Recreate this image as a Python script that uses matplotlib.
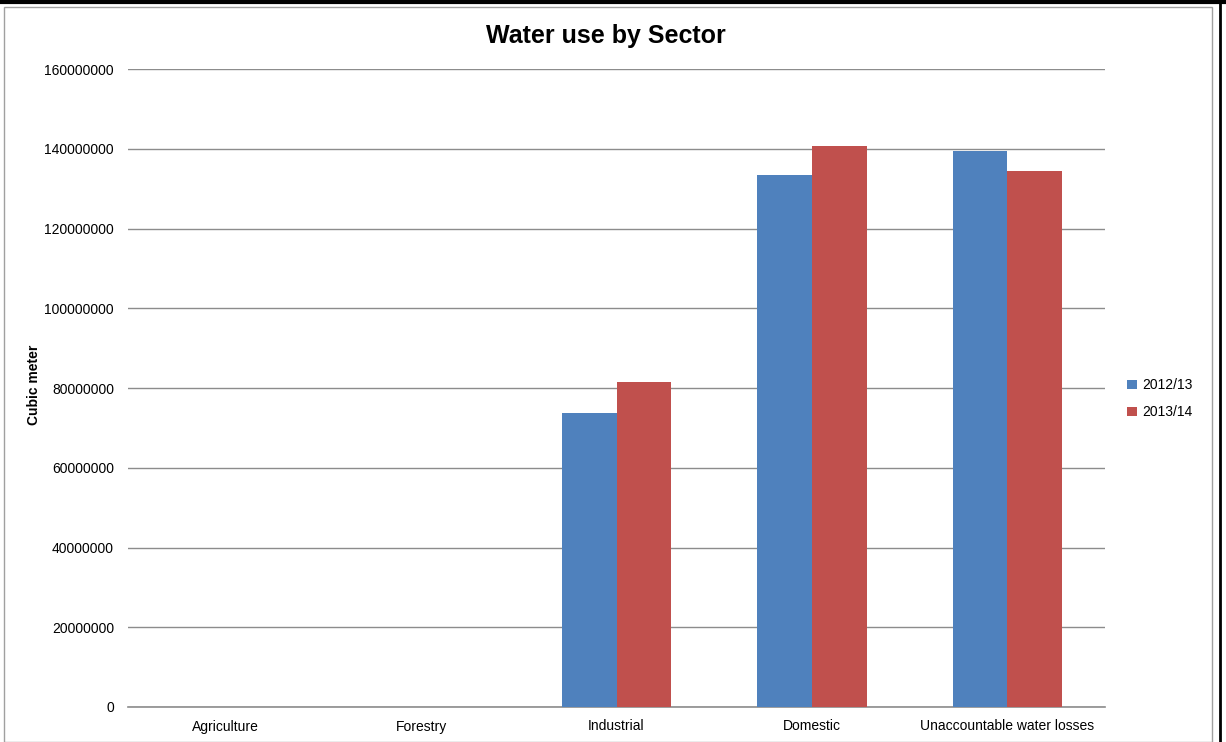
import numpy as np
import matplotlib.pyplot as plt
from matplotlib.patches import Rectangle
from matplotlib.lines import Line2D

plt.rcParams['font.family'] = ['Liberation Sans Narrow', 'Liberation Sans', 'DejaVu Sans']

sectors = ['Agriculture', 'Forestry', 'Industrial', 'Domestic', 'Unaccountable water losses']
use_2012 = [0, 0, 73700000, 133400000, 139400000]
use_2013 = [0, 0, 81500000, 140700000, 134500000]
series_names = ['2012/13', '2013/14']
yticks = np.arange(0, 160000001, 20000000)

blue = '#4f81bd'
red = '#c0504d'

fig = plt.figure(figsize=(12.26, 7.42), dpi=100)
ax = fig.add_axes([128/1226, 1 - 707/742, 977/1226, 638/742])

x = np.arange(len(sectors))
w = 0.28
ax.bar(x - w/2, use_2012, w, color=blue, label=series_names[0], zorder=3)
ax.bar(x + w/2, use_2013, w, color=red, label=series_names[1], zorder=3)

ax.set_xlim(-0.5, len(sectors) - 0.5)
ax.set_ylim(0, 160000000)
ax.set_yticks(yticks)
ax.set_yticklabels([str(v) for v in yticks], fontsize=10)
ax.set_xticks(x)
ax.set_xticklabels(sectors, fontsize=10)
ax.tick_params(axis='y', length=0, pad=10)
ax.tick_params(axis='x', length=0, pad=9)
ax.grid(axis='y', color='#8c8c8c', linewidth=1, zorder=0)
for s in ['top', 'right', 'left']:
    ax.spines[s].set_visible(False)
ax.spines['bottom'].set_color('#8c8c8c')
ax.spines['bottom'].set_linewidth(1.2)

ax.set_ylabel('Cubic meter', fontsize=10, fontweight='bold')
ax.yaxis.set_label_coords(-87/977, 0.505)

fig.text(606/1226, 1 - 36/742, 'Water use by Sector', ha='center', va='center',
         fontsize=18, fontweight='bold')

leg = ax.legend(loc='center left', bbox_to_anchor=(1.01, 0.483), frameon=False,
                fontsize=10, handlelength=0.7, handleheight=0.7, labelspacing=0.95,
                handletextpad=0.4)

# screenshot frame
fig.patches.append(Rectangle((4/1226, 0), 1208/1226, 735/742, transform=fig.transFigure,
                             fill=False, edgecolor='#a0a0a0', linewidth=1))
fig.lines.append(Line2D([0, 1], [1 - 2/742, 1 - 2/742], transform=fig.transFigure,
                        color='black', linewidth=3))
fig.lines.append(Line2D([1220/1226, 1220/1226], [0, 1], transform=fig.transFigure,
                        color='black', linewidth=2))

fig.savefig('out.png', dpi=100)
